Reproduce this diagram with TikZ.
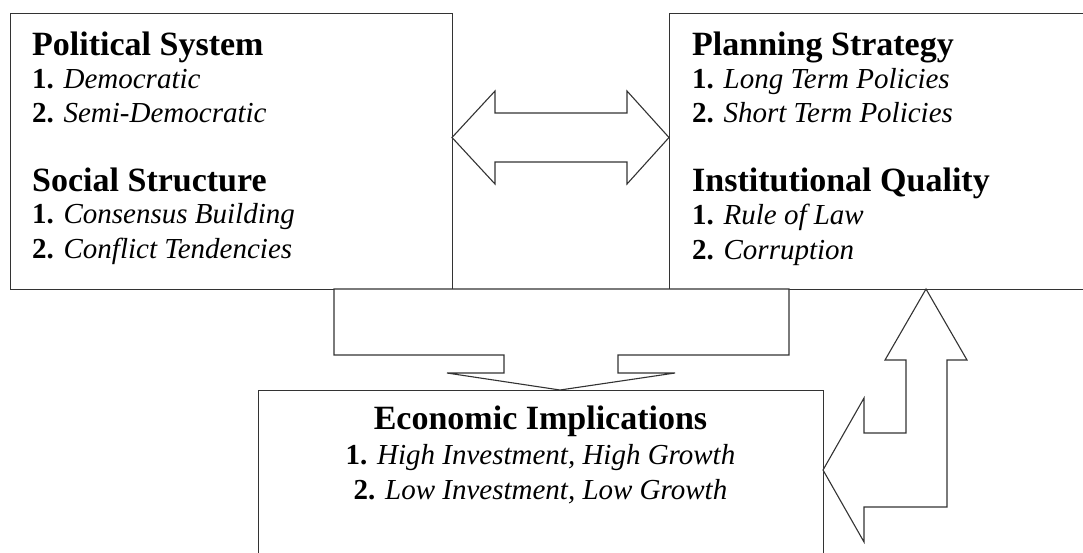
\documentclass[tikz,border=0pt]{standalone}
\usepackage{fontspec}
\setmainfont{Liberation Serif}
\usepackage{tikz}

\begin{document}
\begin{tikzpicture}[x=1pt, y=-1pt,
  box/.style = {draw=black!80, line width=1.1pt, rectangle, inner sep=0pt, anchor=north west},
  head/.style = {anchor=base west, inner sep=0pt, font=\fontsize{34}{39}\selectfont\bfseries},
  item/.style = {anchor=base west, inner sep=0pt, font=\fontsize{29}{34}\selectfont},
  blockarrow/.style = {draw=black!80, line width=1.1pt, fill=white, line join=miter}]
\useasboundingbox (0,0) rectangle (1083,552);
\clip (0,0) rectangle (1083,552);
\node[box, minimum width=442pt, minimum height=276pt] (pol) at (10,13) {};
\node[box, minimum width=430pt, minimum height=276pt] (plan) at (669,13) {};
\node[box, minimum width=565pt, minimum height=180pt] (eco) at (258,390) {};
% text of the left box
\node[head] (polhead) at (32,55) {Political System};
\node[item] (pol1) at (32,88) {\textbf{1.} \textit{Democratic}};
\node[item] (pol2) at (32,122) {\textbf{2.} \textit{Semi-Democratic}};
\node[head] (sochead) at (32,191) {Social Structure};
\node[item] (soc1) at (32,223) {\textbf{1.} \textit{Consensus Building}};
\node[item] (soc2) at (32,258) {\textbf{2.} \textit{Conflict Tendencies}};
% text of the right box
\node[head] (planhead) at (692,55) {Planning Strategy};
\node[item] (plan1) at (692,88) {\textbf{1.} \textit{Long Term Policies}};
\node[item] (plan2) at (692,122) {\textbf{2.} \textit{Short Term Policies}};
\node[head] (insthead) at (692,191) {Institutional Quality};
\node[item] (inst1) at (692,224) {\textbf{1.} \textit{Rule of Law}};
\node[item] (inst2) at (692,259) {\textbf{2.} \textit{Corruption}};
% text of the bottom box
\node[head, anchor=base] (ecohead) at (540.5,429) {Economic Implications};
\node[item, anchor=base] (eco1) at (540.5,464) {\textbf{1.} \textit{High Investment, High Growth}};
\node[item, anchor=base] (eco2) at (540.5,499) {\textbf{2.} \textit{Low Investment, Low Growth}};
% block arrows
\draw[blockarrow] (452,137.5) -- (495,91) -- (495,113) -- (627,113) -- (627,91)
  -- (669,137.5) -- (627,184) -- (627,162) -- (495,162) -- (495,184) -- cycle;
\draw[blockarrow] (334,289) -- (789,289) -- (789,355) -- (618,355) -- (618,373)
  -- (675,373) -- (560,390) -- (447,373) -- (504,373) -- (504,355) -- (334,355) -- cycle;
\draw[blockarrow] (926,289) -- (967,360) -- (947,360) -- (947,507) -- (864,507)
  -- (864,542) -- (823,470) -- (864,398) -- (864,433) -- (906,433) -- (906,360)
  -- (885,360) -- cycle;
\end{tikzpicture}
\end{document}
